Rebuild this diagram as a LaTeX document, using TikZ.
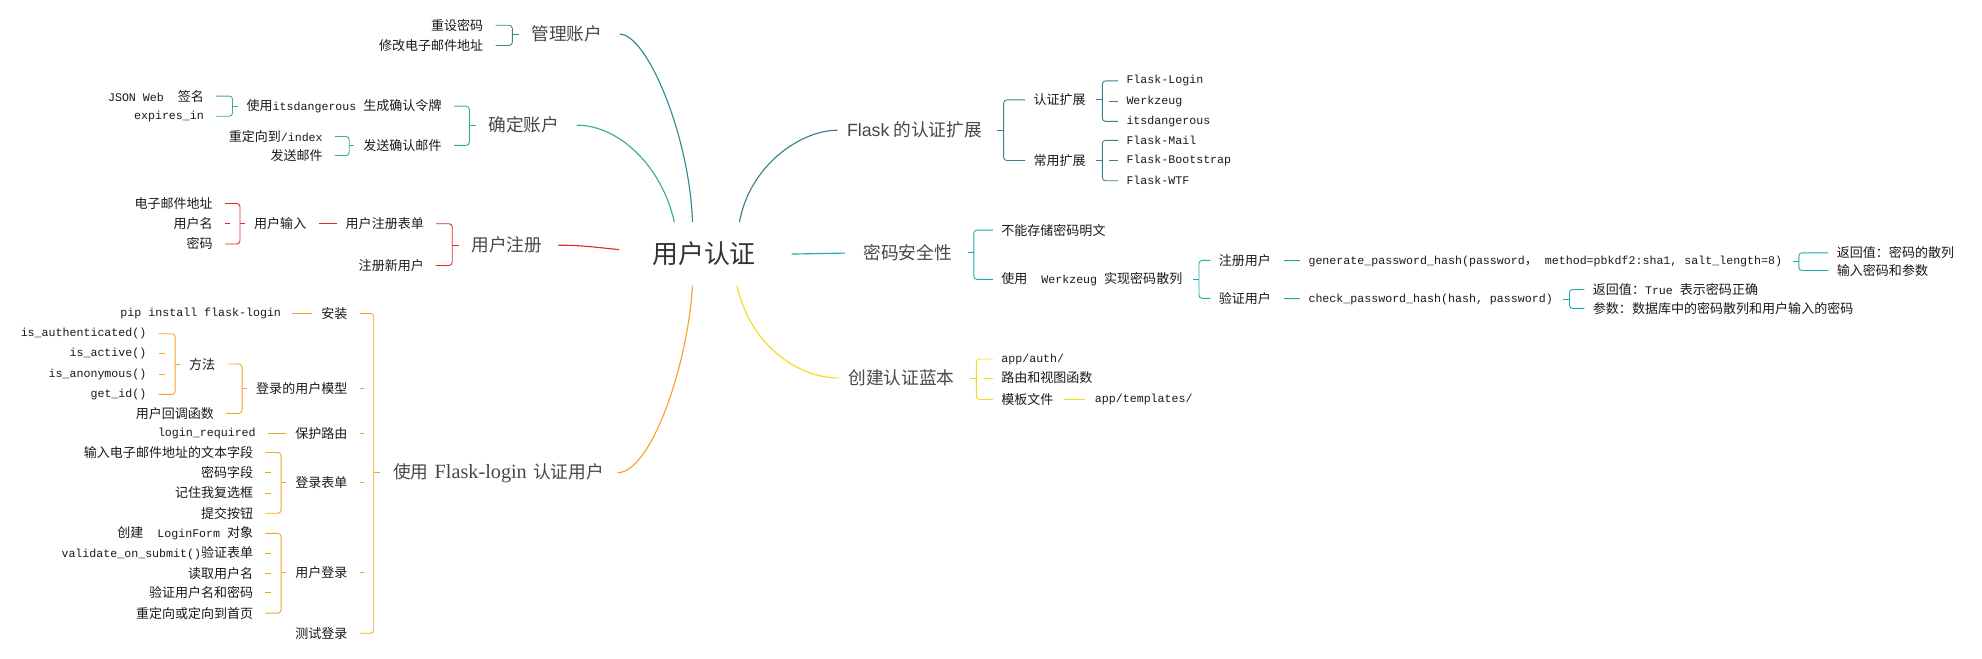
\documentclass[tikz,border=0pt]{standalone}
\usepackage{fontspec}
\usepackage{xcolor}
\usepackage{tikz}
\setmainfont{Noto Sans CJK SC}
\newfontfamily\monofnt{Liberation Mono}
\newfontfamily\seriffnt{Liberation Serif}
\newfontfamily\sansfnt{Liberation Sans}
\newcommand{\cd}[1]{{\monofnt\fontsize{9.2}{11}\selectfont #1}}

\definecolor{cman}{HTML}{2F8C8C}
\definecolor{cconf}{HTML}{3BAF82}
\definecolor{creg}{HTML}{E02A2A}
\definecolor{clog}{HTML}{F5A32A}
\definecolor{cext}{HTML}{3A7F8C}
\definecolor{cpwd}{HTML}{20A8A8}
\definecolor{cbp}{HTML}{F2DC1A}

% bracket helpers: top child, bottom child, bracket coordinate
\newcommand{\brkl}[3]{\draw[brkl] (#1.east) -- (#1.east -| #3) -- (#2.east -| #3) -- (#2.east);}
\newcommand{\brkr}[3]{\draw[brkr] (#1.west) -- (#1.west -| #3) -- (#2.west -| #3) -- (#2.west);}
\newcommand{\tickl}[2]{\draw[brkl] (#1.east) -- (#1.east -| #2);}
\newcommand{\tickr}[2]{\draw[brkr] (#1.west) -- (#1.west -| #2);}

\begin{document}
\begin{tikzpicture}[x=1pt, y=-1pt,
            root/.style={text=black!80, font=\fontsize{20.5}{24}\selectfont, minimum width=134pt, minimum height=50pt, inner sep=0pt},
            topic/.style={text=black!72, font=\fontsize{14}{17}\selectfont, inner sep=1.5pt},
            leaf/.style={text=black!90, font=\fontsize{10.3}{12}\selectfont, inner sep=1.5pt},
            main/.style={line width=0.9pt},
            brkl/.style={line width=0.7pt, rounded corners=2.5pt, shorten <=8pt, shorten >=8pt},
            brkr/.style={line width=0.7pt, rounded corners=2.5pt, shorten <=5pt, shorten >=5pt}]
    \useasboundingbox (0,0) rectangle (1568,520.6);

    % Nodes
    \node[root] (root) at (557,201) {用户认证};

    \node[topic] (manage) at (448.5,27) {管理账户};
    \node[leaf, anchor=east] (reset) at (384,20) {重设密码};
    \node[leaf, anchor=east] (chemail) at (384,36) {修改电子邮件地址};

    \node[topic] (confirm) at (414.5,99) {确定账户};
    \node[leaf, anchor=east] (token) at (351,84) {使用\cd{itsdangerous }生成确认令牌};
    \node[leaf, anchor=east] (jws) at (163,76) {\cd{JSON Web\ \ }签名};
    \node[leaf, anchor=east] (expires) at (163,92) {\cd{expires\_in}};
    \node[leaf, anchor=east] (sendmail) at (351,115) {发送确认邮件};
    \node[leaf, anchor=east] (redirect) at (257,108) {重定向到\cd{/index}};
    \node[leaf, anchor=east] (mail) at (257,123) {发送邮件};

    \node[topic] (register) at (401,194) {用户注册};
    \node[leaf, anchor=east] (regform) at (337,177) {用户注册表单};
    \node[leaf, anchor=east] (newuser) at (337,210) {注册新用户};
    \node[leaf, anchor=east] (input) at (244,177) {用户输入};
    \node[leaf, anchor=east] (addr) at (170,161) {电子邮件地址};
    \node[leaf, anchor=east] (uname) at (170,177) {用户名};
    \node[leaf, anchor=east] (pword) at (170,193) {密码};

    \node[topic, anchor=east] (flogin) at (479.5,374) {使用\hspace{5pt}{\seriffnt\fontsize{16}{18}\selectfont Flask-login}\hspace{5pt}认证用户};
    \node[leaf, anchor=east] (install) at (276.5,248) {安装};
    \node[leaf, anchor=east] (pip) at (224,248) {\cd{pip install flask-login}};
    \node[leaf, anchor=east] (model) at (276.5,307) {登录的用户模型};
    \node[leaf, anchor=east] (methods) at (172,288) {方法};
    \node[leaf, anchor=east] (isauth) at (117.5,264) {\cd{is\_authenticated()}};
    \node[leaf, anchor=east] (isact) at (117.5,280) {\cd{is\_active()}};
    \node[leaf, anchor=east] (isanon) at (117.5,296) {\cd{is\_anonymous()}};
    \node[leaf, anchor=east] (getid) at (117.5,312) {\cd{get\_id()}};
    \node[leaf, anchor=east] (callback) at (171,327) {用户回调函数};
    \node[leaf, anchor=east] (protect) at (276.5,343) {保护路由};
    \node[leaf, anchor=east] (logreq) at (204,343) {\cd{login\_required}};
    \node[leaf, anchor=east] (lform) at (276.5,382) {登录表单};
    \node[leaf, anchor=east] (f1) at (202,358) {输入电子邮件地址的文本字段};
    \node[leaf, anchor=east] (f2) at (202,374) {密码字段};
    \node[leaf, anchor=east] (f3) at (202,390) {记住我复选框};
    \node[leaf, anchor=east] (f4) at (202,406) {提交按钮};
    \node[leaf, anchor=east] (ulogin) at (276.5,453) {用户登录};
    \node[leaf, anchor=east] (l1) at (202,422) {创建\cd{\ \ LoginForm\ }对象};
    \node[leaf, anchor=east] (l2) at (202,438) {\cd{validate\_on\_submit()}验证表单};
    \node[leaf, anchor=east] (l3) at (202,454) {读取用户名};
    \node[leaf, anchor=east] (l4) at (202,469) {验证用户名和密码};
    \node[leaf, anchor=east] (l5) at (202,485) {重定向或定向到首页};
    \node[leaf, anchor=east] (testlog) at (276.5,501) {测试登录};

    \node[topic, anchor=west] (ext) at (668.5,103) {{\sansfnt Flask} 的认证扩展};
    \node[leaf, anchor=west] (authext) at (816,79) {认证扩展};
    \node[leaf, anchor=west] (fl) at (889.5,64) {\cd{Flask-Login}};
    \node[leaf, anchor=west] (wz) at (889.5,80) {\cd{Werkzeug}};
    \node[leaf, anchor=west] (itsd) at (889.5,96) {\cd{itsdangerous}};
    \node[leaf, anchor=west] (common) at (816,127) {常用扩展};
    \node[leaf, anchor=west] (fm) at (889.5,111) {\cd{Flask-Mail}};
    \node[leaf, anchor=west] (fb) at (889.5,127) {\cd{Flask-Bootstrap}};
    \node[leaf, anchor=west] (fw) at (889.5,143) {\cd{Flask-WTF}};

    \node[topic, anchor=west] (pwd) at (681.5,200) {密码安全性};
    \node[leaf, anchor=west] (noplain) at (790.5,182) {不能存储密码明文};
    \node[leaf, anchor=west] (werk) at (790.5,221) {使用\cd{\ \ Werkzeug\ }实现密码散列};
    \node[leaf, anchor=west] (reguser) at (962.5,206) {注册用户};
    \node[leaf, anchor=west] (gen) at (1033.5,207) {\cd{generate\_password\_hash(password}，\cd{\ method=pbkdf2:sha1, salt\_length=8)}};
    \node[leaf, anchor=west] (ret1) at (1451.5,200) {返回值：密码的散列};
    \node[leaf, anchor=west] (inp) at (1451.5,214) {输入密码和参数};
    \node[leaf, anchor=west] (veruser) at (962.5,236) {验证用户};
    \node[leaf, anchor=west] (chk) at (1033.5,237) {\cd{check\_password\_hash(hash, password)}};
    \node[leaf, anchor=west] (ret2) at (1258.5,229) {返回值：\cd{True }表示密码正确};
    \node[leaf, anchor=west] (par) at (1258.5,244) {参数：数据库中的密码散列和用户输入的密码};

    \node[topic, anchor=west] (bp) at (669.5,299) {创建认证蓝本};
    \node[leaf, anchor=west] (auth) at (790.5,284) {\cd{app/auth/}};
    \node[leaf, anchor=west] (route) at (790.5,299) {路由和视图函数};
    \node[leaf, anchor=west] (tmpl) at (790.5,316) {模板文件};
    \node[leaf, anchor=west] (apptmpl) at (864.5,316) {\cd{app/templates/}};

    % Bracket points
    \path (manage.west) ++(-13.5,0) coordinate (bmanage)
          (confirm.west) ++(-13.5,0) coordinate (bconfirm)
          (token.west) ++(-9.5,0) coordinate (btoken)
          (sendmail.west) ++(-9.5,0) coordinate (bsendmail)
          (register.west) ++(-13.5,0) coordinate (bregister)
          (input.west) ++(-9.5,0) coordinate (binput)
          (flogin.west) ++(-13.5,0) coordinate (bflogin)
          (model.west) ++(-9.5,0) coordinate (bmodel)
          (methods.west) ++(-9.5,0) coordinate (bmethods)
          (lform.west) ++(-9.5,0) coordinate (blform)
          (ulogin.west) ++(-9.5,0) coordinate (bulogin)
          (ext.east) ++(15.5,0) coordinate (bext)
          (authext.east) ++(11.5,0) coordinate (bauthext)
          (common.east) ++(11.5,0) coordinate (bcommon)
          (pwd.east) ++(15.5,0) coordinate (bpwd)
          (werk.east) ++(11.5,0) coordinate (bwerk)
          (gen.east) ++(11.5,0) coordinate (bgen)
          (chk.east) ++(11.5,0) coordinate (bchk)
          (bp.east) ++(15.5,0) coordinate (bbp);

    % Edges
    \begin{scope}[color=cman]
        \draw[main, shorten <=12pt] (manage.east) .. controls +(34,0) and +(-2,-67) .. (root.110);
        \brkl{reset}{chemail}{bmanage}
        \draw[line width=0.7pt, shorten >=8.5pt] (bmanage) -- (manage);
    \end{scope}

    \begin{scope}[color=cconf]
        \draw[main, shorten <=12pt] (confirm.east) .. controls +(45,0) and +(-10,-45) .. (root.133);
        \brkl{token}{sendmail}{bconfirm}
        \draw[line width=0.7pt, shorten >=8.5pt] (bconfirm) -- (confirm);
        \brkl{jws}{expires}{btoken}
        \draw[line width=0.7pt, shorten >=5.5pt] (btoken) -- (token);
        \brkl{redirect}{mail}{bsendmail}
        \draw[line width=0.7pt, shorten >=5.5pt] (bsendmail) -- (sendmail);
    \end{scope}

    \begin{scope}[color=creg]
        \draw[main, shorten <=11pt] (register.east) .. controls +(30,0) and +(-20,-2) .. (root.177);
        \brkl{regform}{newuser}{bregister}
        \draw[line width=0.7pt, shorten >=8.5pt] (bregister) -- (register);
        \draw[line width=0.7pt, shorten <=8pt, shorten >=5.5pt] (input) -- (regform);
        \brkl{addr}{pword}{binput}
        \tickl{uname}{binput}
        \draw[line width=0.7pt, shorten >=5.5pt] (binput) -- (input);
    \end{scope}

    \begin{scope}[color=clog]
        \draw[main, shorten <=9pt] (flogin.east) .. controls +(35,0) and +(-4,65) .. (root.250);
        \brkl{install}{testlog}{bflogin}
        \tickl{model}{bflogin}
        \tickl{protect}{bflogin}
        \tickl{lform}{bflogin}
        \tickl{ulogin}{bflogin}
        \draw[line width=0.7pt, shorten >=8.5pt] (bflogin) -- (flogin);
        \draw[line width=0.7pt, shorten <=7pt, shorten >=5.5pt] (pip) -- (install);
        \brkl{methods}{callback}{bmodel}
        \draw[line width=0.7pt, shorten >=5.5pt] (bmodel) -- (model);
        \brkl{isauth}{getid}{bmethods}
        \tickl{isact}{bmethods}
        \tickl{isanon}{bmethods}
        \draw[line width=0.7pt, shorten >=5.5pt] (bmethods) -- (methods);
        \draw[line width=0.7pt, shorten <=8pt, shorten >=5.5pt] (logreq) -- (protect);
        \brkl{f1}{f4}{blform}
        \tickl{f2}{blform}
        \tickl{f3}{blform}
        \draw[line width=0.7pt, shorten >=5.5pt] (blform) -- (lform);
        \brkl{l1}{l5}{bulogin}
        \tickl{l2}{bulogin}
        \tickl{l3}{bulogin}
        \tickl{l4}{bulogin}
        \draw[line width=0.7pt, shorten >=5.5pt] (bulogin) -- (ulogin);
    \end{scope}

    \begin{scope}[color=cext]
        \draw[main, shorten >=6pt] (root.42) .. controls +(8,-45) and +(-35,0) .. (ext.west);
        \brkr{authext}{common}{bext}
        \draw[line width=0.7pt, shorten >=10.5pt] (bext) -- (ext);
        \brkr{fl}{itsd}{bauthext}
        \tickr{wz}{bauthext}
        \draw[line width=0.7pt, shorten >=6.5pt] (bauthext) -- (authext);
        \brkr{fm}{fw}{bcommon}
        \tickr{fb}{bcommon}
        \draw[line width=0.7pt, shorten >=6.5pt] (bcommon) -- (common);
    \end{scope}

    \begin{scope}[color=cpwd]
        \draw[main, shorten <=2pt, shorten >=13pt] (root.east) -- (pwd.west);
        \brkr{noplain}{werk}{bpwd}
        \draw[line width=0.7pt, shorten >=10.5pt] (bpwd) -- (pwd);
        \brkr{reguser}{veruser}{bwerk}
        \draw[line width=0.7pt, shorten >=6.5pt] (bwerk) -- (werk);
        \draw[line width=0.7pt, shorten <=8.5pt, shorten >=5pt] (reguser) -- (gen);
        \draw[line width=0.7pt, shorten <=8.5pt, shorten >=5pt] (veruser) -- (chk);
        \brkr{ret1}{inp}{bgen}
        \draw[line width=0.7pt, shorten >=6.5pt] (bgen) -- (gen);
        \brkr{ret2}{par}{bchk}
        \draw[line width=0.7pt, shorten >=6.5pt] (bchk) -- (chk);
    \end{scope}

    \begin{scope}[color=cbp]
        \draw[main, shorten >=6pt] (root.316) .. controls +(10,45) and +(-40,0) .. (bp.west);
        \brkr{auth}{tmpl}{bbp}
        \tickr{route}{bbp}
        \draw[line width=0.7pt, shorten >=10.5pt] (bbp) -- (bp);
        \draw[line width=0.7pt, shorten <=6.5pt, shorten >=6pt] (tmpl) -- (apptmpl);
    \end{scope}
\end{tikzpicture}
\end{document}
